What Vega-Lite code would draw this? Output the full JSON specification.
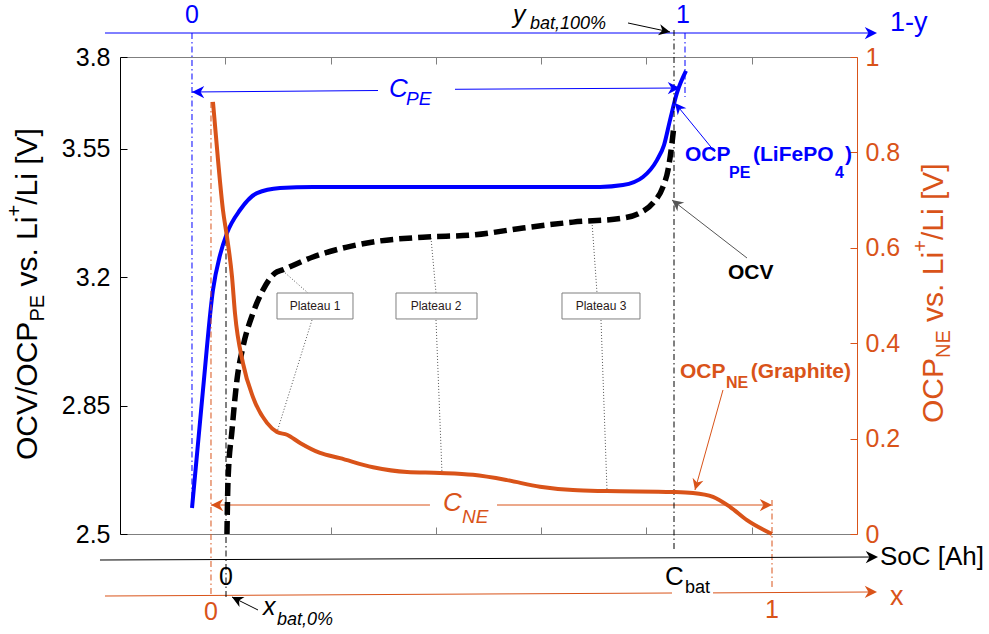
{
"$schema":"https://vega.github.io/schema/vega-lite/v6.json",
"width":737,"height":477,
"autosize":"none",
"padding":{"left":120,"top":57,"right":132,"bottom":100},
"background":"white",
"config":{"view":{"stroke":null},"font":"Liberation Sans"},
"layer":[
{"layer":[
 {"data":{"values":[{"soc":0.684,"v":2.571},{"soc":0.788,"v":2.892},{"soc":0.883,"v":3.165},{"soc":0.95,"v":3.26},{"soc":1.016,"v":3.32},{"soc":1.14,"v":3.383},{"soc":1.301,"v":3.429},{"soc":1.52,"v":3.443},{"soc":1.833,"v":3.446},{"soc":3.134,"v":3.446},{"soc":4.559,"v":3.446},{"soc":4.777,"v":3.451},{"soc":4.967,"v":3.473},{"soc":5.1,"v":3.519},{"soc":5.167,"v":3.56},{"soc":5.224,"v":3.628},{"soc":5.29,"v":3.702},{"soc":5.376,"v":3.762}]},
  "mark":{"type":"line","color":"#0000ff","strokeWidth":4,"interpolate":"monotone"},
  "encoding":{
   "x":{"field":"soc","type":"quantitative","scale":{"domain":[0,7],"nice":false,"zero":false},"axis":{"orient":"bottom","values":[1,2,3,4,5,6],"labels":false,"title":null,"grid":false,"domainColor":"#7f7f7f","tickColor":"#7f7f7f","tickSize":-7}},
   "y":{"field":"v","type":"quantitative","scale":{"domain":[2.5,3.8],"nice":false,"zero":false},"axis":{"orient":"left","values":[2.5,2.85,3.2,3.55,3.8],"format":".3~g","title":null,"grid":false,"labelFontSize":25,"labelColor":"#000000","domainColor":"#000000","tickColor":"#000000","tickSize":-7,"labelPadding":17}}}},
 {"data":{"values":[{"x":-0.1425,"y":3.8654,"x2":7.17,"y2":3.8654},{"x":0.6838,"y":3.7046,"x2":2.4505,"y2":3.7087},{"x":3.1818,"y":3.712,"x2":5.31,"y2":3.7155},{"x":5.6513,"y":3.5411,"x2":5.2714,"y2":3.6746}]},
  "mark":{"type":"rule","color":"#0000ff","strokeWidth":1},
  "encoding":{"x":{"field":"x","type":"quantitative"},"x2":{"field":"x2"},"y":{"field":"y","type":"quantitative"},"y2":{"field":"y2"}}},
 {"data":{"values":[{"x":0.6838,"y":3.8654,"x2":0.6838,"y2":2.5736},{"x":5.3664,"y":3.8654,"x2":5.3664,"y2":3.691}]},
  "mark":{"type":"rule","color":"#0000ff","strokeWidth":1,"strokeDash":[6,3,1.5,3]},
  "encoding":{"x":{"field":"x","type":"quantitative"},"x2":{"field":"x2"},"y":{"field":"y","type":"quantitative"},"y2":{"field":"y2"}}},
 {"data":{"values":[{"x":0.8643,"y":2.579,"x2":2.944,"y2":2.579},{"x":3.581,"y":2.579,"x2":6.18,"y2":2.579},{"x":-0.1425,"y":2.331,"x2":5.2429,"y2":2.3392},{"x":5.6323,"y":2.3395,"x2":7.17,"y2":2.342},{"x":5.7272,"y":2.8925,"x2":5.4613,"y2":2.6199}]},
  "mark":{"type":"rule","color":"#D95319","strokeWidth":1},
  "encoding":{"x":{"field":"x","type":"quantitative"},"x2":{"field":"x2"},"y":{"field":"y","type":"quantitative"},"y2":{"field":"y2"}}},
 {"data":{"values":[{"x":0.8643,"y":3.6774,"x2":0.8643,"y2":2.3283},{"x":6.1927,"y":2.5926,"x2":6.1927,"y2":2.3556}]},
  "mark":{"type":"rule","color":"#D95319","strokeWidth":1,"strokeDash":[6,3,1.5,3]},
  "encoding":{"x":{"field":"x","type":"quantitative"},"x2":{"field":"x2"},"y":{"field":"y","type":"quantitative"},"y2":{"field":"y2"}}},
 {"data":{"values":[{"x":-0.19,"y":2.4291,"x2":7.18,"y2":2.4373},{"x":4.825,"y":3.8927,"x2":5.224,"y2":3.8681},{"x":1.3107,"y":2.2929,"x2":1.0638,"y2":2.3283}]},
  "mark":{"type":"rule","color":"#000000","strokeWidth":1},
  "encoding":{"x":{"field":"x","type":"quantitative"},"x2":{"field":"x2"},"y":{"field":"y","type":"quantitative"},"y2":{"field":"y2"}}},
 {"data":{"values":[{"x":5.9552,"y":3.2522,"x2":5.2429,"y2":3.4103}]},
  "mark":{"type":"rule","color":"#555555","strokeWidth":1},
  "encoding":{"x":{"field":"x","type":"quantitative"},"x2":{"field":"x2"},"y":{"field":"y","type":"quantitative"},"y2":{"field":"y2"}}},
 {"data":{"values":[{"x":5.2619,"y":3.8736,"x2":5.2619,"y2":2.451},{"x":1.0068,"y":3.3013,"x2":1.0068,"y2":2.3256}]},
  "mark":{"type":"rule","color":"#000000","strokeWidth":1,"strokeDash":[6,3,1.5,3]},
  "encoding":{"x":{"field":"x","type":"quantitative"},"x2":{"field":"x2"},"y":{"field":"y","type":"quantitative"},"y2":{"field":"y2"}}},
 {"data":{"values":[{"x":1.5482,"y":3.2168,"x2":1.7856,"y2":3.1568},{"x":1.8236,"y":3.0833,"x2":1.4912,"y2":2.778},{"x":2.9538,"y":3.3067,"x2":3.0014,"y2":3.1568},{"x":3.0014,"y":3.0833,"x2":3.0583,"y2":2.6662},{"x":4.483,"y":3.3503,"x2":4.5305,"y2":3.1568},{"x":4.5685,"y":3.0833,"x2":4.6255,"y2":2.6199}]},
  "mark":{"type":"rule","color":"#555555","strokeWidth":1,"strokeDash":[1,2]},
  "encoding":{"x":{"field":"x","type":"quantitative"},"x2":{"field":"x2"},"y":{"field":"y","type":"quantitative"},"y2":{"field":"y2"}}},
 {"data":{"values":[{"x":1.4912,"x2":2.213,"y":3.1568,"y2":3.086},{"x":2.6214,"x2":3.3908,"y":3.1568,"y2":3.086},{"x":4.1981,"x2":4.9389,"y":3.1568,"y2":3.086}]},
  "mark":{"type":"rect","fill":"#ffffff","stroke":"#7f7f7f","strokeWidth":1},
  "encoding":{"x":{"field":"x","type":"quantitative"},"x2":{"field":"x2"},"y":{"field":"y","type":"quantitative"},"y2":{"field":"y2"}}},
 {"data":{"values":[{"x":1.8521,"y":3.1214,"t":"Plateau 1"},{"x":3.0014,"y":3.1214,"t":"Plateau 2"},{"x":4.5685,"y":3.1214,"t":"Plateau 3"}]},
  "mark":{"type":"text","align":"center","baseline":"middle","fontSize":12,"color":"#2a1a1a"},
  "encoding":{"x":{"field":"x","type":"quantitative"},"y":{"field":"y","type":"quantitative"},"text":{"field":"t"}}},
 {"data":{"values":[{"soc":1.016,"v":2.5},{"soc":1.026,"v":2.647},{"soc":1.064,"v":2.783},{"soc":1.111,"v":2.92},{"soc":1.168,"v":3.01},{"soc":1.263,"v":3.102},{"soc":1.358,"v":3.165},{"soc":1.472,"v":3.211},{"soc":1.548,"v":3.22},{"soc":1.833,"v":3.255},{"soc":2.156,"v":3.282},{"soc":2.403,"v":3.296},{"soc":2.878,"v":3.309},{"soc":3.353,"v":3.315},{"soc":3.828,"v":3.334},{"soc":4.302,"v":3.35},{"soc":4.777,"v":3.361},{"soc":4.939,"v":3.375},{"soc":5.062,"v":3.402},{"soc":5.157,"v":3.446},{"soc":5.205,"v":3.492},{"soc":5.243,"v":3.566},{"soc":5.262,"v":3.615}]},
  "mark":{"type":"line","color":"#000000","strokeWidth":5.5,"strokeDash":[13,6],"interpolate":"monotone"},
  "encoding":{"x":{"field":"soc","type":"quantitative"},"y":{"field":"v","type":"quantitative"}}},
 {"data":{"values":[{"x":7.19,"y":3.8654},{"x":5.3189,"y":3.7155}]},
  "mark":{"type":"point","shape":"M0,0L-1,-0.5L-0.7,0L-1,0.5Z","filled":true,"opacity":1,"color":"#0000ff","size":600,"angle":0},
  "encoding":{"x":{"field":"x","type":"quantitative"},"y":{"field":"y","type":"quantitative"}}},
 {"data":{"values":[{"x":0.6838,"y":3.7046}]},
  "mark":{"type":"point","shape":"M0,0L-1,-0.5L-0.7,0L-1,0.5Z","filled":true,"opacity":1,"color":"#0000ff","size":600,"angle":180},
  "encoding":{"x":{"field":"x","type":"quantitative"},"y":{"field":"y","type":"quantitative"}}},
 {"data":{"values":[{"x":5.2714,"y":3.6746}]},
  "mark":{"type":"point","shape":"M0,0L-1,-0.5L-0.7,0L-1,0.5Z","filled":true,"opacity":1,"color":"#0000ff","size":500,"angle":230.8},
  "encoding":{"x":{"field":"x","type":"quantitative"},"y":{"field":"y","type":"quantitative"}}},
 {"data":{"values":[{"x":7.19,"y":2.342},{"x":6.1927,"y":2.579}]},
  "mark":{"type":"point","shape":"M0,0L-1,-0.5L-0.7,0L-1,0.5Z","filled":true,"opacity":1,"color":"#D95319","size":600,"angle":0},
  "encoding":{"x":{"field":"x","type":"quantitative"},"y":{"field":"y","type":"quantitative"}}},
 {"data":{"values":[{"x":0.8643,"y":2.579}]},
  "mark":{"type":"point","shape":"M0,0L-1,-0.5L-0.7,0L-1,0.5Z","filled":true,"opacity":1,"color":"#D95319","size":600,"angle":180},
  "encoding":{"x":{"field":"x","type":"quantitative"},"y":{"field":"y","type":"quantitative"}}},
 {"data":{"values":[{"x":5.4613,"y":2.6199}]},
  "mark":{"type":"point","shape":"M0,0L-1,-0.5L-0.7,0L-1,0.5Z","filled":true,"opacity":1,"color":"#D95319","size":500,"angle":105.6},
  "encoding":{"x":{"field":"x","type":"quantitative"},"y":{"field":"y","type":"quantitative"}}},
 {"data":{"values":[{"x":7.1995,"y":2.4373}]},
  "mark":{"type":"point","shape":"M0,0L-1,-0.5L-0.7,0L-1,0.5Z","filled":true,"opacity":1,"color":"#000000","size":600,"angle":0},
  "encoding":{"x":{"field":"x","type":"quantitative"},"y":{"field":"y","type":"quantitative"}}},
 {"data":{"values":[{"x":5.224,"y":3.8681}]},
  "mark":{"type":"point","shape":"M0,0L-1,-0.5L-0.7,0L-1,0.5Z","filled":true,"opacity":1,"color":"#000000","size":500,"angle":12.1},
  "encoding":{"x":{"field":"x","type":"quantitative"},"y":{"field":"y","type":"quantitative"}}},
 {"data":{"values":[{"x":1.0638,"y":2.3283}]},
  "mark":{"type":"point","shape":"M0,0L-1,-0.5L-0.7,0L-1,0.5Z","filled":true,"opacity":1,"color":"#000000","size":500,"angle":206.6},
  "encoding":{"x":{"field":"x","type":"quantitative"},"y":{"field":"y","type":"quantitative"}}},
 {"data":{"values":[{"x":5.2429,"y":3.4103}]},
  "mark":{"type":"point","shape":"M0,0L-1,-0.5L-0.7,0L-1,0.5Z","filled":true,"opacity":1,"color":"#555555","size":500,"angle":217.7},
  "encoding":{"x":{"field":"x","type":"quantitative"},"y":{"field":"y","type":"quantitative"}}},
 {"data":{"values":[{"x":0.6838,"y":3.9145,"t":"0"},{"x":5.347,"y":3.9145,"t":"1"}]},
  "mark":{"type":"text","align":"center","baseline":"middle","fontSize":25,"color":"#0000ff"},
  "encoding":{"x":{"field":"x","type":"quantitative"},"y":{"field":"y","type":"quantitative"},"text":{"field":"t"}}},
 {"data":{"values":[{"x":7.3134,"y":3.8927,"t":"1-y"}]},
  "mark":{"type":"text","align":"left","baseline":"middle","fontSize":27,"color":"#0000ff"},
  "encoding":{"x":{"field":"x","type":"quantitative"},"y":{"field":"y","type":"quantitative"},"text":{"field":"t"}}},
 {"data":{"values":[{"x":2.555,"y":3.7128,"t":"C"}]},
  "mark":{"type":"text","align":"left","baseline":"middle","fontSize":26,"fontStyle":"italic","color":"#0000ff"},
  "encoding":{"x":{"field":"x","type":"quantitative"},"y":{"field":"y","type":"quantitative"},"text":{"field":"t"}}},
 {"data":{"values":[{"x":2.716,"y":3.6855,"t":"PE"}]},
  "mark":{"type":"text","align":"left","baseline":"middle","fontSize":19,"fontStyle":"italic","color":"#0000ff"},
  "encoding":{"x":{"field":"x","type":"quantitative"},"y":{"field":"y","type":"quantitative"},"text":{"field":"t"}}},
 {"data":{"values":[{"x":3.068,"y":2.5845,"t":"C"}]},
  "mark":{"type":"text","align":"left","baseline":"middle","fontSize":26,"fontStyle":"italic","color":"#D95319"},
  "encoding":{"x":{"field":"x","type":"quantitative"},"y":{"field":"y","type":"quantitative"},"text":{"field":"t"}}},
 {"data":{"values":[{"x":3.248,"y":2.5463,"t":"NE"}]},
  "mark":{"type":"text","align":"left","baseline":"middle","fontSize":19,"fontStyle":"italic","color":"#D95319"},
  "encoding":{"x":{"field":"x","type":"quantitative"},"y":{"field":"y","type":"quantitative"},"text":{"field":"t"}}},
 {"data":{"values":[{"x":0.8643,"y":2.2874,"t":"0"},{"x":6.1927,"y":2.2929,"t":"1"}]},
  "mark":{"type":"text","align":"center","baseline":"middle","fontSize":25,"color":"#D95319"},
  "encoding":{"x":{"field":"x","type":"quantitative"},"y":{"field":"y","type":"quantitative"},"text":{"field":"t"}}},
 {"data":{"values":[{"x":7.3134,"y":2.3283,"t":"x"}]},
  "mark":{"type":"text","align":"left","baseline":"middle","fontSize":27,"color":"#D95319"},
  "encoding":{"x":{"field":"x","type":"quantitative"},"y":{"field":"y","type":"quantitative"},"text":{"field":"t"}}},
 {"data":{"values":[{"x":1.0068,"y":2.3828,"t":"0"}]},
  "mark":{"type":"text","align":"center","baseline":"middle","fontSize":25,"color":"#000000"},
  "encoding":{"x":{"field":"x","type":"quantitative"},"y":{"field":"y","type":"quantitative"},"text":{"field":"t"}}},
 {"data":{"values":[{"x":5.176,"y":2.3828,"t":"C"},{"x":7.2185,"y":2.4373,"t":"SoC [Ah]"}]},
  "mark":{"type":"text","align":"left","baseline":"middle","fontSize":26,"color":"#000000"},
  "encoding":{"x":{"field":"x","type":"quantitative"},"y":{"field":"y","type":"quantitative"},"text":{"field":"t"}}},
 {"data":{"values":[{"x":5.366,"y":2.3528,"t":"bat"}]},
  "mark":{"type":"text","align":"left","baseline":"middle","fontSize":18,"color":"#000000"},
  "encoding":{"x":{"field":"x","type":"quantitative"},"y":{"field":"y","type":"quantitative"},"text":{"field":"t"}}},
 {"data":{"values":[{"x":3.733,"y":3.9145,"t":"y"},{"x":1.3582,"y":2.301,"t":"x"}]},
  "mark":{"type":"text","align":"left","baseline":"middle","fontSize":25,"fontStyle":"italic","color":"#000000"},
  "encoding":{"x":{"field":"x","type":"quantitative"},"y":{"field":"y","type":"quantitative"},"text":{"field":"t"}}},
 {"data":{"values":[{"x":3.894,"y":3.8899,"t":"bat,100%"},{"x":1.4912,"y":2.2656,"t":"bat,0%"}]},
  "mark":{"type":"text","align":"left","baseline":"middle","fontSize":18,"fontStyle":"italic","color":"#000000"},
  "encoding":{"x":{"field":"x","type":"quantitative"},"y":{"field":"y","type":"quantitative"},"text":{"field":"t"}}},
 {"data":{"values":[{"x":5.3664,"y":3.5329,"t":"OCP"},{"x":6.0122,"y":3.5329,"t":"(LiFePO"},{"x":6.886,"y":3.5329,"t":")"}]},
  "mark":{"type":"text","align":"left","baseline":"middle","fontSize":21,"fontWeight":"bold","color":"#0000ff"},
  "encoding":{"x":{"field":"x","type":"quantitative"},"y":{"field":"y","type":"quantitative"},"text":{"field":"t"}}},
 {"data":{"values":[{"x":5.7842,"y":3.4839,"t":"PE"},{"x":6.791,"y":3.4839,"t":"4"}]},
  "mark":{"type":"text","align":"left","baseline":"middle","fontSize":16,"fontWeight":"bold","color":"#0000ff"},
  "encoding":{"x":{"field":"x","type":"quantitative"},"y":{"field":"y","type":"quantitative"},"text":{"field":"t"}}},
 {"data":{"values":[{"x":5.7748,"y":3.2113,"t":"OCV"}]},
  "mark":{"type":"text","align":"left","baseline":"middle","fontSize":21,"fontWeight":"bold","color":"#000000"},
  "encoding":{"x":{"field":"x","type":"quantitative"},"y":{"field":"y","type":"quantitative"},"text":{"field":"t"}}},
 {"data":{"values":[{"x":5.3189,"y":2.9415,"t":"OCP"},{"x":5.99,"y":2.9415,"t":"(Graphite)"}]},
  "mark":{"type":"text","align":"left","baseline":"middle","fontSize":21,"fontWeight":"bold","color":"#D95319"},
  "encoding":{"x":{"field":"x","type":"quantitative"},"y":{"field":"y","type":"quantitative"},"text":{"field":"t"}}},
 {"data":{"values":[{"x":5.7557,"y":2.9115,"t":"NE"}]},
  "mark":{"type":"text","align":"left","baseline":"middle","fontSize":16,"fontWeight":"bold","color":"#D95319"},
  "encoding":{"x":{"field":"x","type":"quantitative"},"y":{"field":"y","type":"quantitative"},"text":{"field":"t"}}},
 {"data":{"values":[{"x":-0.7883,"y":2.7017,"t":"OCV/OCP"},{"x":-0.7883,"y":3.1742,"t":"vs. Li"},{"x":-0.7883,"y":3.3972,"t":"/Li [V]"}]},
  "mark":{"type":"text","align":"left","baseline":"alphabetic","fontSize":30,"angle":270,"color":"#000000"},
  "encoding":{"x":{"field":"x","type":"quantitative"},"y":{"field":"y","type":"quantitative"},"text":{"field":"t"}}},
 {"data":{"values":[{"x":-0.7218,"y":3.0789,"t":"PE"},{"x":-0.9403,"y":3.3653,"t":"+"}]},
  "mark":{"type":"text","align":"left","baseline":"alphabetic","fontSize":20,"angle":270,"color":"#000000"},
  "encoding":{"x":{"field":"x","type":"quantitative"},"y":{"field":"y","type":"quantitative"},"text":{"field":"t"}}},
 {"data":{"values":[{"x":7.8168,"y":2.8025,"t":"OCP"},{"x":7.8168,"y":3.078,"t":"vs. Li"},{"x":7.8168,"y":3.301,"t":"/Li [V]"}]},
  "mark":{"type":"text","align":"left","baseline":"alphabetic","fontSize":30,"angle":270,"color":"#D95319"},
  "encoding":{"x":{"field":"x","type":"quantitative"},"y":{"field":"y","type":"quantitative"},"text":{"field":"t"}}},
 {"data":{"values":[{"x":7.8833,"y":2.9797,"t":"NE"},{"x":7.6648,"y":3.2691,"t":"+"}]},
  "mark":{"type":"text","align":"left","baseline":"alphabetic","fontSize":20,"angle":270,"color":"#D95319"},
  "encoding":{"x":{"field":"x","type":"quantitative"},"y":{"field":"y","type":"quantitative"},"text":{"field":"t"}}}
]},
{"data":{"values":[{"soc":0.883,"r":0.906},{"soc":0.931,"r":0.784},{"soc":0.978,"r":0.679},{"soc":1.016,"r":0.623},{"soc":1.064,"r":0.539},{"soc":1.092,"r":0.463},{"soc":1.168,"r":0.358},{"soc":1.263,"r":0.287},{"soc":1.396,"r":0.233},{"soc":1.491,"r":0.214},{"soc":1.586,"r":0.208},{"soc":1.71,"r":0.191},{"soc":1.9,"r":0.17},{"soc":2.089,"r":0.159},{"soc":2.403,"r":0.14},{"soc":2.726,"r":0.13},{"soc":3.039,"r":0.128},{"soc":3.353,"r":0.124},{"soc":3.675,"r":0.113},{"soc":3.989,"r":0.099},{"soc":4.302,"r":0.092},{"soc":4.625,"r":0.09},{"soc":5.252,"r":0.088},{"soc":5.442,"r":0.086},{"soc":5.632,"r":0.078},{"soc":5.793,"r":0.057},{"soc":5.955,"r":0.029},{"soc":6.192,"r":0.0}]},
 "mark":{"type":"line","color":"#D95319","strokeWidth":4,"interpolate":"monotone"},
 "encoding":{
  "x":{"field":"soc","type":"quantitative","scale":{"domain":[0,7],"nice":false,"zero":false},"axis":{"orient":"top","values":[1,2,3,4,5,6],"labels":false,"title":null,"grid":false,"domainColor":"#7f7f7f","tickColor":"#7f7f7f","tickSize":-7}},
  "y":{"field":"r","type":"quantitative","scale":{"domain":[0,1],"nice":false,"zero":false},"axis":{"orient":"right","values":[0,0.2,0.4,0.6,0.8,1],"format":".2~g","title":null,"grid":false,"labelFontSize":25,"labelColor":"#D95319","domainColor":"#D95319","tickColor":"#D95319","tickSize":-7,"labelPadding":15}}}}
],
"resolve":{"scale":{"y":"independent"},"axis":{"x":"independent"}}
}
